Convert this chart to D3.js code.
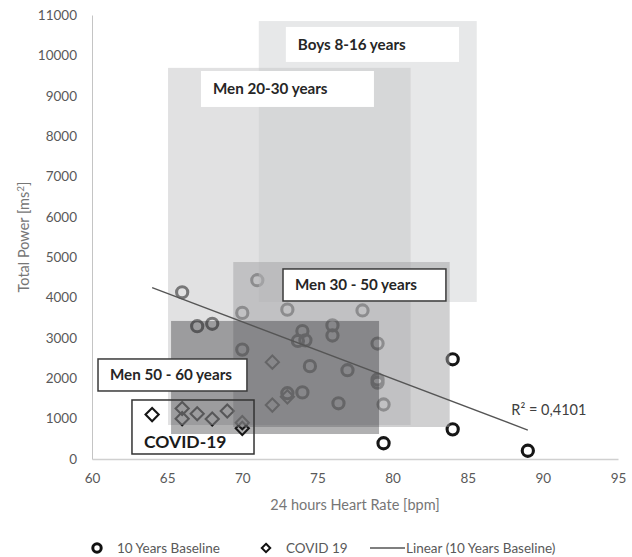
<!DOCTYPE html>
<html>
<head>
<meta charset="utf-8">
<script src="https://cdn.jsdelivr.net/npm/d3@7"></script>
<style>
  html, body { margin: 0; padding: 0; background: #ffffff; }
  svg { display: block; }
  text { font-family: Lato, "Open Sans", sans-serif; }
</style>
</head>
<body>
<svg id="chart" width="632" height="557"></svg>
<script>
// 24 h heart rate [bpm] vs. total power [ms²]
const xTicks = [60, 65, 70, 75, 80, 85, 90, 95];
const yTicks = [0, 1000, 2000, 3000, 4000, 5000, 6000, 7000, 8000, 9000, 10000, 11000];

// 10 years baseline measurements
const baselineHR = [66, 71, 67, 68, 70, 73, 78, 70, 74, 73.7, 74.2, 76, 76, 79, 74.5, 77, 79, 79, 73, 74, 76.4, 79.4, 84, 84, 79.4, 89];
const baselineTP = [4130, 4430, 3290, 3350, 3620, 3700, 3680, 2710, 3170, 2925, 2940, 3310, 3060, 2860, 2300, 2200, 1970, 1890, 1630, 1650, 1380, 1350, 2470, 735, 390, 205];

// measurements during COVID 19
const covidHR = [64, 66, 66, 67, 68, 69, 70, 70, 72, 72, 73];
const covidTP = [1100, 1250, 1000, 1120, 990, 1190, 900, 760, 2400, 1335, 1540];

// linear trend of the baseline series: TP = intercept + slope * HR
const trendIntercept = 13275;
const trendSlope = -141.1;
const trendRange = [64, 89];
const trendR2 = "R² = 0,4101";

// reference ranges by age group [HR min, HR max, TP min, TP max]
const rangeNames = ["Boys 8-16 years", "Men 20-30 years", "Men 30 - 50 years", "Men 50 - 60 years"];
const rangeHR = [[71.1, 85.6], [65.06, 81.2], [69.4, 83.8], [65.26, 79.1]];
const rangeTP = [[3890, 10850], [842, 9690], [793, 4880], [619, 3420]];
// label boxes of the ranges [HR from, HR to, TP top, TP bottom]
const labelHR = [[72.9, 84.42], [67.25, 78.76], [72.71, 83.55], [60.4, 70.31]];
const labelTP = [[10704, 9837], [9613, 8722], [4708, 3915], [2478, 1685]];
const labelBordered = [false, false, true, true];

// framed COVID-19 annotation
const covidLabel = "COVID-19";
const covidBoxHR = [62.66, 70.78];
const covidBoxTP = [1462, 124];

const legendItems = ["10 Years Baseline", "COVID 19", "Linear (10 Years Baseline)"];

const svg = d3.select("#chart");
const x = d3.scaleLinear().domain([60, 95]).range([92, 618]);
const y = d3.scaleLinear().domain([0, 11000]).range([459, 15]);

// axes
const xAxis = d3.axisBottom(x).tickValues(xTicks).tickSize(0).tickPadding(14).tickFormat(d3.format("d"));
const yAxis = d3.axisLeft(y).tickValues(yTicks).tickSize(0).tickPadding(15).tickFormat(d3.format("d"));

const gx = svg.append("g").attr("transform", `translate(0,${y(0)})`).call(xAxis);
gx.select(".domain").attr("stroke", "#d0d0d0").attr("stroke-width", 1.5);
gx.selectAll("text").attr("font-size", 13.5).attr("fill", "#595959").attr("font-family", "Lato");

const gy = svg.append("g").attr("transform", `translate(${x(60)},0)`).call(yAxis);
gy.select(".domain").attr("stroke", "#c4c4c4").attr("stroke-width", 1);
gy.selectAll("text").attr("font-size", 13.5).attr("fill", "#595959").attr("font-family", "Lato");

// axis titles
svg.append("text")
  .attr("x", (x(60) + x(95)) / 2).attr("y", 510)
  .attr("text-anchor", "middle").attr("font-size", 14.5).attr("fill", "#767676")
  .text("24 hours Heart Rate [bpm]");
const yTitle = svg.append("text")
  .attr("transform", `translate(29,${(y(0) + y(11000)) / 2}) rotate(-90)`)
  .attr("text-anchor", "middle").attr("font-size", 14.5).attr("fill", "#767676");
yTitle.append("tspan").text("Total Power [ms");
yTitle.append("tspan").attr("font-size", 10).attr("dy", -5).text("2");
yTitle.append("tspan").attr("dy", 5).text("]");

// data points
const baseline = baselineHR.map((h, i) => ({ hr: h, tp: baselineTP[i] }));
const covid = covidHR.map((h, i) => ({ hr: h, tp: covidTP[i] }));

svg.append("g").selectAll("circle").data(baseline).join("circle")
  .attr("cx", d => x(d.hr)).attr("cy", d => y(d.tp)).attr("r", 5.6)
  .attr("fill", "none").attr("stroke", "#161616").attr("stroke-width", 3.1);

const diamond = d3.symbol().type(d3.symbolDiamond2).size(110);
svg.append("g").selectAll("path").data(covid).join("path")
  .attr("transform", d => `translate(${x(d.hr)},${y(d.tp)})`)
  .attr("d", diamond)
  .attr("fill", "none").attr("stroke", "#161616").attr("stroke-width", 2.1);

// translucent reference ranges laid over the points
const rangeFill = ["#d0d1d3", "#c8c9cb", "#a1a2a4", "#1e1e20"];
const rangeOpacity = [0.5, 0.55, 0.5, 0.35];
svg.append("g").selectAll("rect").data(rangeNames).join("rect")
  .attr("x", (d, i) => x(rangeHR[i][0]))
  .attr("width", (d, i) => x(rangeHR[i][1]) - x(rangeHR[i][0]))
  .attr("y", (d, i) => y(rangeTP[i][1]))
  .attr("height", (d, i) => y(rangeTP[i][0]) - y(rangeTP[i][1]))
  .attr("fill", (d, i) => rangeFill[i])
  .attr("fill-opacity", (d, i) => rangeOpacity[i]);

// trend line
svg.append("line")
  .attr("x1", x(trendRange[0])).attr("y1", y(trendIntercept + trendSlope * trendRange[0]))
  .attr("x2", x(trendRange[1])).attr("y2", y(trendIntercept + trendSlope * trendRange[1]))
  .attr("stroke", "#555555").attr("stroke-width", 1.3);

svg.append("text")
  .attr("x", x(87.9)).attr("y", y(1090))
  .attr("font-size", 14.5).attr("fill", "#404040")
  .text(trendR2);

// range labels
const labels = svg.append("g").selectAll("g").data(rangeNames).join("g");
labels.append("rect")
  .attr("x", (d, i) => x(labelHR[i][0]))
  .attr("width", (d, i) => x(labelHR[i][1]) - x(labelHR[i][0]))
  .attr("y", (d, i) => y(labelTP[i][0]))
  .attr("height", (d, i) => y(labelTP[i][1]) - y(labelTP[i][0]))
  .attr("fill", "#ffffff")
  .attr("stroke", (d, i) => labelBordered[i] ? "#3a3a3a" : "none")
  .attr("stroke-width", 1.5);
labels.append("text")
  .attr("x", (d, i) => x(labelHR[i][0]) + 12)
  .attr("y", (d, i) => (y(labelTP[i][0]) + y(labelTP[i][1])) / 2)
  .attr("dy", "0.36em")
  .attr("font-size", 15.2).attr("font-weight", 700).attr("fill", "#262626")
  .text(d => d);

// COVID-19 frame
svg.append("rect")
  .attr("x", x(covidBoxHR[0])).attr("width", x(covidBoxHR[1]) - x(covidBoxHR[0]))
  .attr("y", y(covidBoxTP[0])).attr("height", y(covidBoxTP[1]) - y(covidBoxTP[0]))
  .attr("fill", "none").attr("stroke", "#333333").attr("stroke-width", 1.5);
svg.append("text")
  .attr("x", x(covidBoxHR[0]) + 12).attr("y", y(covidBoxTP[1]) - 6)
  .attr("font-size", 17.5).attr("font-weight", 700).attr("fill", "#1a1a1a")
  .text(covidLabel);

// legend
const legend = svg.append("g").attr("transform", "translate(0,548)");
legend.append("circle").attr("cx", 97).attr("cy", 0).attr("r", 4.2)
  .attr("fill", "none").attr("stroke", "#111").attr("stroke-width", 3);
legend.append("text").attr("x", 117).attr("dy", "0.35em").attr("font-size", 13.5).attr("fill", "#595959").text(legendItems[0]);
legend.append("path").attr("transform", "translate(266,0)").attr("d", d3.symbol().type(d3.symbolDiamond2).size(45))
  .attr("fill", "none").attr("stroke", "#111").attr("stroke-width", 2);
legend.append("text").attr("x", 286).attr("dy", "0.35em").attr("font-size", 13.5).attr("fill", "#595959").text(legendItems[1]);
legend.append("line").attr("x1", 370).attr("x2", 405).attr("y1", 0).attr("y2", 0)
  .attr("stroke", "#555").attr("stroke-width", 1.3);
legend.append("text").attr("x", 406).attr("dy", "0.35em").attr("font-size", 13.5).attr("fill", "#595959").text(legendItems[2]);
</script>
</body>
</html>
